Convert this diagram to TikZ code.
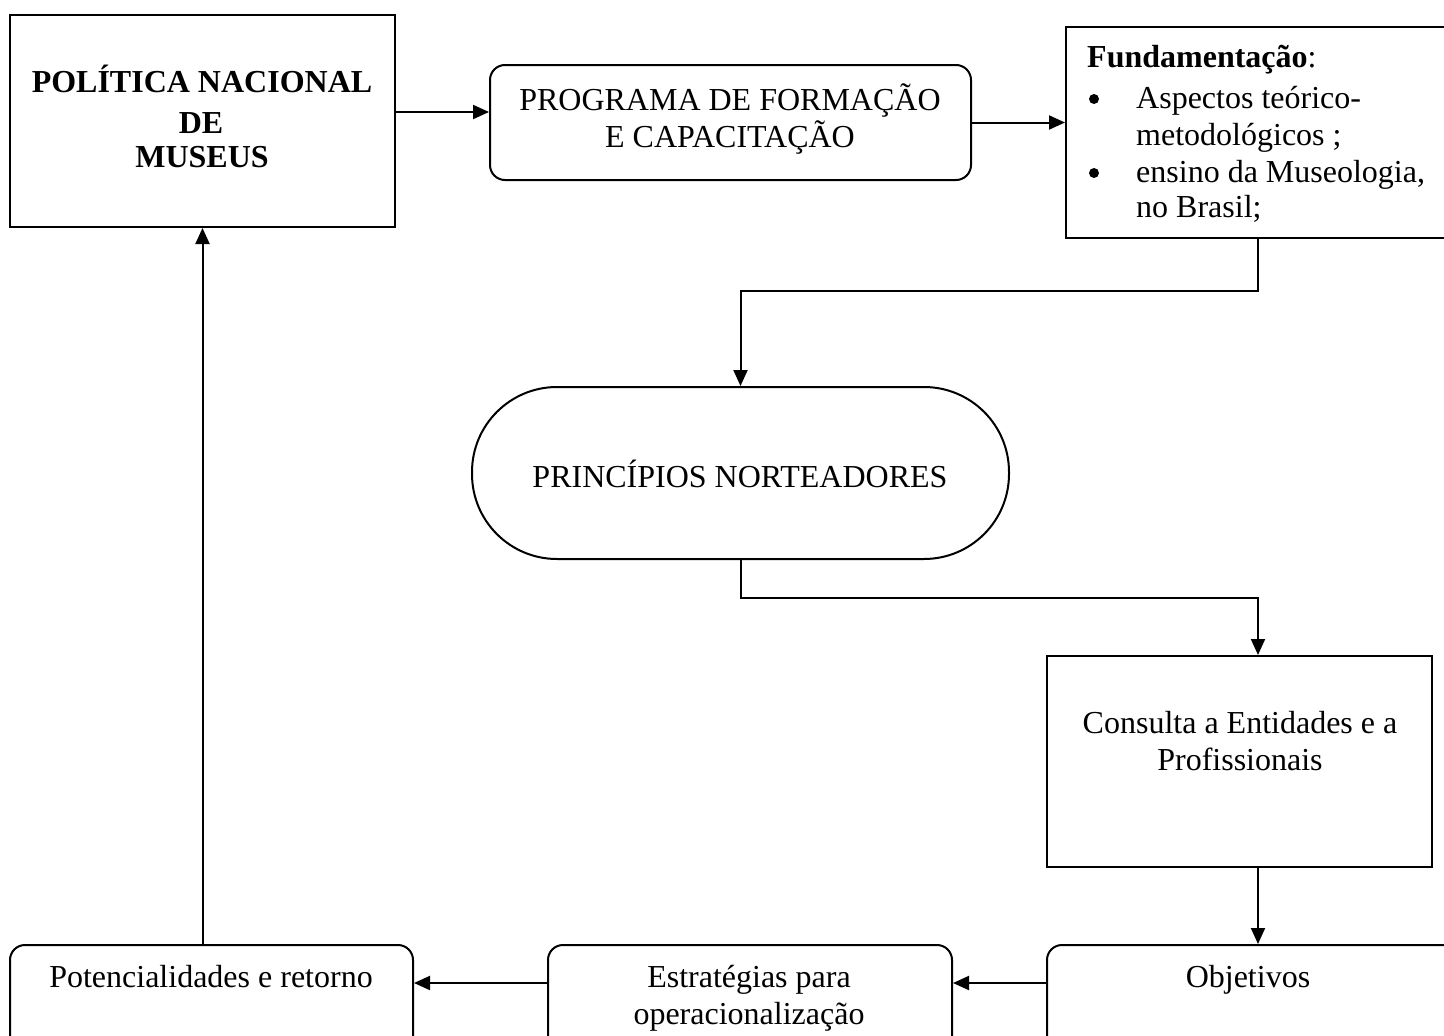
\documentclass[tikz,border=0pt]{standalone}
\usepackage{fontspec}
\setmainfont{Liberation Serif}
\usetikzlibrary{arrows.meta}
\begin{document}
\begin{tikzpicture}[x=1pt,y=-1pt,
  box/.style={draw, line width=2pt, rectangle, inner sep=0pt},
  rbox/.style={box, rounded corners=15pt},
  termbox/.style={box, rounded corners=85pt},
  txt/.style={anchor=base, inner sep=0pt, font=\fontsize{32}{37}\selectfont},
  ltxt/.style={txt, anchor=base west},
  dot/.style={circle, fill, inner sep=0pt, minimum size=10pt},
  arr/.style={line width=2pt, -{Triangle[length=16pt,width=14pt]}}]
\fill[white] (0,0) rectangle (1444,1036);
\clip (0,0) rectangle (1444,1036);
% boxes
\node[box, minimum width=385pt, minimum height=212pt] (pnm) at (202.5,121) {};
\node[rbox, minimum width=481pt, minimum height=115pt] (prog) at (730.5,122.5) {};
\node[box, minimum width=400pt, minimum height=211pt] (fund) at (1266,132.5) {};
\node[termbox, minimum width=537pt, minimum height=172pt] (term) at (740.5,473) {};
\node[box, minimum width=385pt, minimum height=211pt] (cons) at (1239.5,761.5) {};
\node[rbox, minimum width=413pt, minimum height=115pt] (obj) at (1253.5,1002.5) {};
\node[rbox, minimum width=404pt, minimum height=115pt] (estr) at (750,1002.5) {};
\node[rbox, minimum width=403pt, minimum height=115pt] (pot) at (211.5,1002.5) {};
% texts
\node[txt, font=\fontsize{32}{37}\bfseries] (t1a) at (202,92) {POLÍTICA NACIONAL};
\node[txt, font=\fontsize{32}{37}\bfseries] (t1b) at (201,133) {DE};
\node[txt, font=\fontsize{32}{37}\bfseries] (t1c) at (202,167) {MUSEUS};
\node[txt] (t2a) at (730,110) {PROGRAMA DE FORMAÇÃO};
\node[txt] (t2b) at (730,147) {E CAPACITAÇÃO};
\node[ltxt] (t3a) at (1087,67) {\textbf{Fundamentação}:};
\node[dot] (b1) at (1094,99) {};
\node[ltxt] (t3b) at (1136,108) {Aspectos teórico-};
\node[ltxt] (t3c) at (1136,145) {metodológicos ;};
\node[dot] (b2) at (1094,173) {};
\node[ltxt] (t3d) at (1136,182) {ensino da Museologia,};
\node[ltxt] (t3e) at (1136,217) {no Brasil;};
\node[txt] (t4) at (740,487) {PRINCÍPIOS NORTEADORES};
\node[txt] (t5a) at (1240,733) {Consulta a Entidades e a};
\node[txt] (t5b) at (1240,770) {Profissionais};
\node[txt] (t6) at (1248,987) {Objetivos};
\node[txt] (t7a) at (749,987) {Estratégias para};
\node[txt] (t7b) at (749,1024) {operacionalização};
\node[txt] (t8) at (211,987) {Potencialidades e retorno};
% connectors
\coordinate (r1) at (0,112);
\coordinate (j1) at (1258,291);
\coordinate (j2) at (1258,598);
\coordinate (r2) at (0,983);
\draw[arr] (pnm.east |- r1) -- (prog.west |- r1);
\draw[arr] (prog.east) -- (prog.east -| fund.west);
\draw[arr] (j1 |- fund.south) |- (term.north |- j1) -- (term.north);
\draw[arr] (term.south) |- (j2) -- (j2 |- cons.north);
\draw[arr] (j2 |- cons.south) -- (j2 |- obj.north);
\draw[arr] (obj.west |- r2) -- (estr.east |- r2);
\draw[arr] (estr.west |- r2) -- (pot.east |- r2);
\draw[arr] (pnm.south |- pot.north) -- (pnm.south);
\end{tikzpicture}
\end{document}
